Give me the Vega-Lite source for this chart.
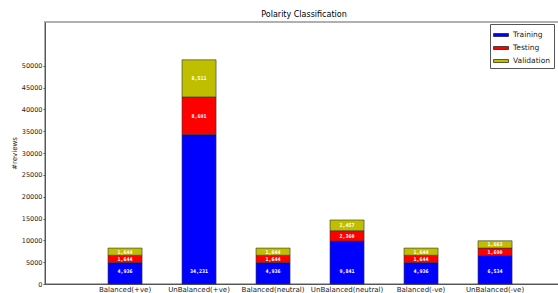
{
  "$schema": "https://vega.github.io/schema/vega-lite/v6.json",
  "autosize": "none",
  "width": 518,
  "height": 262,
  "padding": {"left": 45, "top": 22, "right": 0, "bottom": 9},
  "background": "white",
  "title": {"text": "Polarity Classification", "font": "DejaVu Sans", "fontSize": 8, "fontWeight": "normal", "color": "#000", "offset": 3},
  "config": {
    "view": {"stroke": "#b0b0b0", "strokeWidth": 2},
    "axis": {"labelFont": "DejaVu Sans", "titleFont": "DejaVu Sans", "labelFontSize": 7, "labelColor": "#222", "domainColor": "#555", "tickColor": "#555", "grid": false, "labelOverlap": false}
  },
  "data": {"values": [
    {"category": "Balanced(+ve)", "series": "Training", "value": 4936},
    {"category": "Balanced(+ve)", "series": "Testing", "value": 1644},
    {"category": "Balanced(+ve)", "series": "Validation", "value": 1644},
    {"category": "UnBalanced(+ve)", "series": "Training", "value": 34231},
    {"category": "UnBalanced(+ve)", "series": "Testing", "value": 8601},
    {"category": "UnBalanced(+ve)", "series": "Validation", "value": 8511},
    {"category": "Balanced(neutral)", "series": "Training", "value": 4936},
    {"category": "Balanced(neutral)", "series": "Testing", "value": 1644},
    {"category": "Balanced(neutral)", "series": "Validation", "value": 1644},
    {"category": "UnBalanced(neutral)", "series": "Training", "value": 9841},
    {"category": "UnBalanced(neutral)", "series": "Testing", "value": 2360},
    {"category": "UnBalanced(neutral)", "series": "Validation", "value": 2457},
    {"category": "Balanced(-ve)", "series": "Training", "value": 4936},
    {"category": "Balanced(-ve)", "series": "Testing", "value": 1644},
    {"category": "Balanced(-ve)", "series": "Validation", "value": 1644},
    {"category": "UnBalanced(-ve)", "series": "Training", "value": 6534},
    {"category": "UnBalanced(-ve)", "series": "Testing", "value": 1690},
    {"category": "UnBalanced(-ve)", "series": "Validation", "value": 1663}
  ]},
  "transform": [
    {"calculate": "indexof(['Training','Testing','Validation'], datum.series)", "as": "ord"},
    {"stack": "value", "groupby": ["category"], "sort": [{"field": "ord", "order": "ascending"}], "as": ["v0", "v1"]},
    {"calculate": "(datum.v0 + datum.v1) / 2", "as": "mid"}
  ],
  "encoding": {
    "x": {
      "field": "category", "type": "nominal", "sort": null,
      "scale": {"paddingInner": 0.54, "paddingOuter": 0.77, "align": 0.553},
      "axis": {"title": null, "labelAngle": 0, "ticks": false, "labelPadding": 1, "domainColor": "#555"}
    }
  },
  "layer": [
    {
      "mark": {"type": "bar", "stroke": "#333", "strokeWidth": 0.6},
      "encoding": {
        "y": {"field": "v0", "type": "quantitative",
          "scale": {"domain": [0, 60000], "nice": false},
          "axis": {"title": "#reviews", "titleFontSize": 7, "titleFontWeight": "normal", "titleColor": "#222", "titlePadding": 4, "values": [0, 5000, 10000, 15000, 20000, 25000, 30000, 35000, 40000, 45000, 50000], "tickSize": 2, "labelPadding": 1, "format": "d", "labelOverlap": false, "labelFontSize": 6.5}},
        "y2": {"field": "v1"},
        "color": {"field": "series", "type": "nominal",
          "scale": {"domain": ["Training", "Testing", "Validation"], "range": ["#0000ff", "#ff0000", "#bfbf00"]},
          "legend": {"title": null, "orient": "none", "legendX": 445, "legendY": 2, "strokeColor": "#555", "padding": 3, "rowPadding": 1, "symbolType": "M-1,-0.2H1V0.2H-1Z", "symbolSize": 225, "symbolStrokeColor": "#000", "symbolStrokeWidth": 0.6, "symbolOpacity": 1, "labelFont": "DejaVu Sans", "labelFontSize": 7.5, "labelColor": "#222", "labelOffset": 4, "fillColor": "white"}
        }
      }
    },
    {
      "transform": [{"filter": "datum.series != 'Training'"}],
      "mark": {"type": "text", "font": "DejaVu Sans Mono", "fontSize": 5, "fontWeight": "bold", "color": "white", "baseline": "middle"},
      "encoding": {
        "y": {"field": "mid", "type": "quantitative",
          "axis": {"title": "#reviews", "titleFontSize": 7, "titleFontWeight": "normal", "titleColor": "#222", "titlePadding": 4, "values": [0, 5000, 10000, 15000, 20000, 25000, 30000, 35000, 40000, 45000, 50000], "tickSize": 2, "labelPadding": 1, "format": "d", "labelOverlap": false, "labelFontSize": 6.5}},
        "text": {"field": "value", "type": "quantitative", "format": ","}
      }
    },
    {
      "transform": [{"filter": "datum.series == 'Training'"}],
      "mark": {"type": "text", "font": "DejaVu Sans Mono", "fontSize": 5, "fontWeight": "bold", "color": "white", "baseline": "middle"},
      "encoding": {
        "y": {"datum": 2900, "type": "quantitative",
          "axis": {"title": "#reviews", "titleFontSize": 7, "titleFontWeight": "normal", "titleColor": "#222", "titlePadding": 4, "values": [0, 5000, 10000, 15000, 20000, 25000, 30000, 35000, 40000, 45000, 50000], "tickSize": 2, "labelPadding": 1, "format": "d", "labelOverlap": false, "labelFontSize": 6.5}},
        "text": {"field": "value", "type": "quantitative", "format": ","}
      }
    }
  ]
}
